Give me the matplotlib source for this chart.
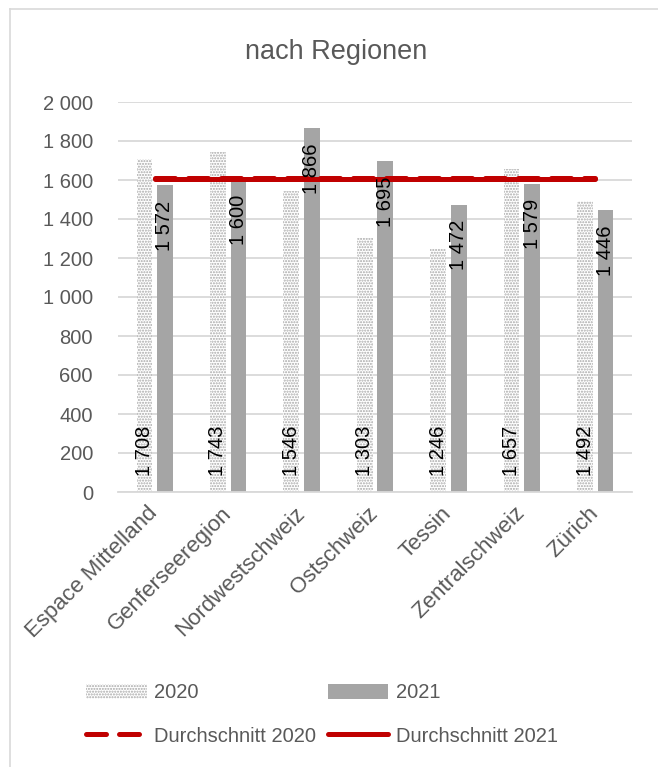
import matplotlib
matplotlib.use("Agg")
import matplotlib.pyplot as plt
import numpy as np
from matplotlib.lines import Line2D
from matplotlib.patches import Patch
from matplotlib.ticker import FuncFormatter, MultipleLocator

# ---- data ----
regions = ["Espace Mittelland", "Genferseeregion", "Nordwestschweiz",
           "Ostschweiz", "Tessin", "Zentralschweiz", "Zürich"]
values_2020 = [1708, 1743, 1546, 1303, 1246, 1657, 1492]
values_2021 = [1572, 1600, 1866, 1695, 1472, 1579, 1446]
avg_2020 = 1612
avg_2021 = 1604
title = "nach Regionen"
label_2020 = "2020"
label_2021 = "2021"
label_avg_2020 = "Durchschnitt 2020"
label_avg_2021 = "Durchschnitt 2021"

def fmt(v):
    return f"{v:,.0f}".replace(",", " ")

plt.rcParams['font.family'] = ['Liberation Sans', 'DejaVu Sans']
plt.rcParams['hatch.linewidth'] = 1.0

W, H = 658, 767
fig = plt.figure(figsize=(W / 100, H / 100), dpi=100)
fig.patch.set_facecolor("white")

# outer chart frame (left and top edges visible)
fig.add_artist(Line2D([10 / W, 10 / W], [1 - 9 / H, -0.1], transform=fig.transFigure,
                      color="#d9d9d9", lw=1.2))
fig.add_artist(Line2D([10 / W, 1.1], [1 - 9 / H, 1 - 9 / H], transform=fig.transFigure,
                      color="#d9d9d9", lw=1.2))

left, right = 118 / W, 632 / W
bottom, top = 1 - 492 / H, 1 - 102 / H
ax = fig.add_axes([left, bottom, right - left, top - bottom])

x = np.arange(len(regions))
bw = 0.215
off = 0.14
grey_txt = "#595959"
hatch_col = "#a8a8a8"

b20 = ax.bar(x - off, values_2020, bw, color="white", edgecolor=hatch_col,
             hatch="......", linewidth=0, zorder=2, label=label_2020)
b21 = ax.bar(x + off, values_2021, bw, color="#a5a5a5", linewidth=0, zorder=2,
             label=label_2021)

ax.plot([x[0], x[-1]], [avg_2020, avg_2020], color="#c00000", lw=3.6,
        dashes=(4, 2.6), dash_capstyle="round", zorder=3)
ax.plot([x[0], x[-1]], [avg_2021, avg_2021], color="#c00000", lw=3.6,
        solid_capstyle="round", zorder=4)

# data labels
for xi, v in zip(x, values_2020):
    ax.annotate(fmt(v), (xi - off, 0), xytext=(0, 16), textcoords="offset pixels",
                rotation=90, ha="center", va="bottom", fontsize=14.5,
                color="#000000", zorder=5)
for xi, v in zip(x, values_2021):
    ax.annotate(fmt(v), (xi + off, v), xytext=(0, -15), textcoords="offset pixels",
                rotation=90, ha="center", va="top", fontsize=14.5,
                color="#000000", zorder=5)

ax.set_xlim(-0.5, len(regions) - 0.5)
ax.set_ylim(0, 2000)
ax.yaxis.set_major_locator(MultipleLocator(200))
ax.yaxis.set_major_formatter(FuncFormatter(lambda v, p: fmt(v)))
ax.grid(axis="y", color="#d9d9d9", lw=1.3, zorder=0)
ax.set_axisbelow(True)
for s in ["top", "right", "left"]:
    ax.spines[s].set_visible(False)
ax.spines["bottom"].set_color("#d9d9d9")
ax.spines["bottom"].set_linewidth(1.3)
ax.tick_params(axis="y", length=0, pad=18, labelsize=14.5, labelcolor=grey_txt)
ax.tick_params(axis="x", length=0, pad=13, labelsize=16, labelcolor=grey_txt)
ax.set_xticks(x)
ax.set_xticklabels(regions, rotation=45, ha="right", va="center", rotation_mode="anchor")

fig.text(336 / W, 1 - 52 / H, title, ha="center", va="center", fontsize=19.5,
         color=grey_txt)

handles = [
    Patch(facecolor="white", edgecolor=hatch_col, hatch="......", linewidth=0),
    Line2D([], [], color="#c00000", lw=3.6, dashes=(4, 2.6), dash_capstyle="round"),
    Patch(facecolor="#a5a5a5", linewidth=0),
    Line2D([], [], color="#c00000", lw=3.6, solid_capstyle="round"),
]
labels = [label_2020, label_avg_2020, label_2021, label_avg_2021]
leg = fig.legend(handles, labels, ncol=2, loc="center",
                 bbox_to_anchor=(322 / W, 1 - 714.5 / H), frameon=False,
                 fontsize=14.5, handlelength=3.0, handleheight=0.8,
                 handletextpad=0.35, columnspacing=0.6, labelspacing=1.2,
                 borderpad=0, labelcolor=grey_txt)

fig.savefig("out.png", dpi=100, facecolor="white")
